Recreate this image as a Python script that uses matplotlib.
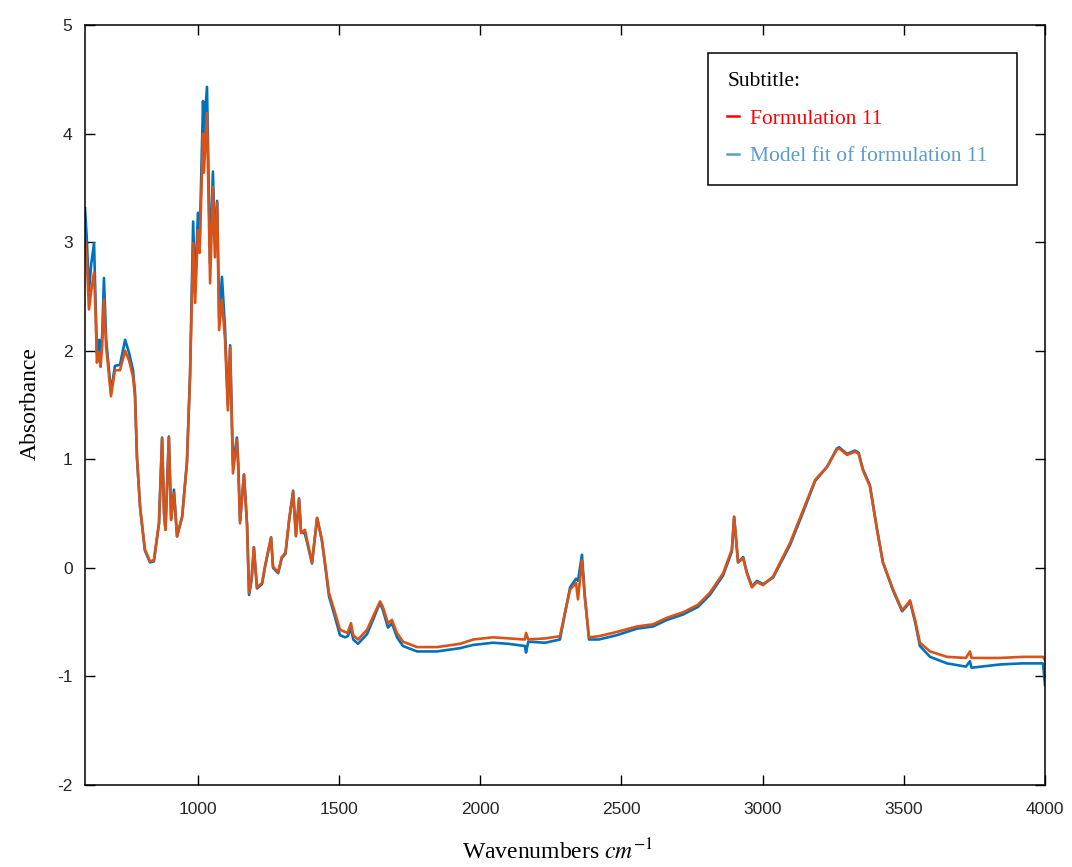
import matplotlib
matplotlib.use('Agg')
import matplotlib.pyplot as plt
from matplotlib.lines import Line2D

plt.rcParams['mathtext.fontset'] = 'stix'
plt.rcParams['axes.unicode_minus'] = False

# FTIR spectrum, measured vs. fitted
wavenumber = [
    600, 606, 614, 622, 632, 638, 642, 650, 655, 661, 667, 675, 684, 692, 706, 724,
    742, 756, 770, 777, 784, 795, 812, 830, 844, 862, 873, 880, 885, 897, 905, 915,
    926, 944, 961, 972, 983, 990, 1000, 1006, 1018, 1021, 1032, 1043, 1053, 1060,
    1068, 1075, 1085, 1096, 1106, 1114, 1124, 1138, 1143, 1149, 1163, 1174, 1181,
    1190, 1198, 1209, 1227, 1237, 1259, 1266, 1284, 1297, 1310, 1323, 1337, 1347,
    1358, 1365, 1379, 1386, 1404, 1422, 1439, 1450, 1464, 1485, 1503, 1521, 1530,
    1542, 1550, 1567, 1599, 1620, 1645, 1655, 1673, 1687, 1705, 1726, 1776, 1847,
    1928, 1975, 2045, 2100, 2158, 2162, 2170, 2230, 2282, 2300, 2318, 2339, 2346,
    2360, 2370, 2385, 2420, 2484, 2555, 2612, 2661, 2718, 2771, 2813, 2860, 2891,
    2899, 2913, 2931, 2944, 2962, 2980, 3001, 3037, 3097, 3143, 3186, 3228, 3263,
    3271, 3299, 3327, 3340, 3355, 3380, 3405, 3426, 3462, 3494, 3511, 3522, 3540,
    3557, 3593, 3653, 3720, 3734, 3740, 3841, 3920, 3993, 4000,
]

formulation_11 = [
    3.02, 2.85, 2.38, 2.55, 2.72, 2.30, 1.89, 1.98, 1.85, 2.05, 2.47, 2.03, 1.80, 1.58, 1.82, 1.82,
    2.00, 1.91, 1.76, 1.58, 1.02, 0.56, 0.17, 0.06, 0.07, 0.41, 1.19, 0.50, 0.35, 1.20, 0.44, 0.69,
    0.29, 0.47, 0.97, 1.76, 2.99, 2.44, 3.11, 2.90, 4.00, 3.64, 4.19, 2.62, 3.51, 2.86,
    3.36, 2.19, 2.47, 2.10, 1.45, 2.03, 0.87, 1.18, 0.90, 0.41, 0.86, 0.38, -0.23,
    -0.10, 0.19, -0.18, -0.14, 0.01, 0.28, 0.01, -0.04, 0.10, 0.14, 0.44, 0.70, 0.29,
    0.63, 0.32, 0.35, 0.26, 0.05, 0.46, 0.26, 0.05, -0.23, -0.41, -0.57, -0.59, -0.60,
    -0.51, -0.62, -0.66, -0.57, -0.45, -0.31, -0.36, -0.51, -0.48, -0.60, -0.68, -0.73, -0.73,
    -0.70, -0.66, -0.64, -0.65, -0.66, -0.60, -0.66, -0.65, -0.63, -0.41, -0.20, -0.14, -0.29,
    0.07, -0.27, -0.64, -0.63, -0.59, -0.54, -0.52, -0.46, -0.41, -0.34, -0.23, -0.05, 0.17,
    0.47, 0.05, 0.09, -0.05, -0.18, -0.13, -0.16, -0.08, 0.23, 0.53, 0.81, 0.93, 1.09,
    1.10, 1.04, 1.07, 1.05, 0.90, 0.75, 0.35, 0.05, -0.20, -0.39, -0.34, -0.30, -0.48,
    -0.69, -0.77, -0.82, -0.83, -0.77, -0.83, -0.83, -0.82, -0.82, -0.85,
]

model_fit = [
    3.31, 3.05, 2.55, 2.80, 2.99, 2.40, 1.98, 2.10, 1.95, 2.15, 2.67, 2.10, 1.85, 1.62, 1.86, 1.87,
    2.10, 1.98, 1.82, 1.62, 1.02, 0.56, 0.16, 0.05, 0.06, 0.41, 1.20, 0.50, 0.35, 1.21, 0.45, 0.72,
    0.29, 0.47, 0.97, 1.78, 3.19, 2.55, 3.27, 3.00, 4.30, 4.00, 4.43, 2.80, 3.65, 3.00,
    3.38, 2.30, 2.68, 2.20, 1.50, 2.05, 0.95, 1.20, 0.95, 0.43, 0.86, 0.40, -0.25,
    -0.11, 0.19, -0.19, -0.15, 0.00, 0.28, 0.00, -0.05, 0.09, 0.13, 0.44, 0.71, 0.30,
    0.64, 0.34, 0.31, 0.24, 0.04, 0.46, 0.25, 0.03, -0.26, -0.45, -0.62, -0.64, -0.63,
    -0.56, -0.66, -0.70, -0.61, -0.48, -0.32, -0.39, -0.55, -0.51, -0.64, -0.72, -0.77, -0.77,
    -0.74, -0.71, -0.69, -0.70, -0.72, -0.78, -0.68, -0.69, -0.66, -0.42, -0.18, -0.10, -0.12,
    0.12, -0.25, -0.66, -0.66, -0.62, -0.56, -0.54, -0.48, -0.43, -0.36, -0.25, -0.07, 0.15,
    0.47, 0.05, 0.10, -0.04, -0.17, -0.12, -0.15, -0.09, 0.21, 0.51, 0.80, 0.93, 1.10,
    1.11, 1.05, 1.08, 1.06, 0.91, 0.76, 0.36, 0.05, -0.21, -0.40, -0.35, -0.31, -0.50,
    -0.72, -0.82, -0.88, -0.91, -0.86, -0.92, -0.89, -0.88, -0.88, -1.08,
]

fig = plt.figure(figsize=(10.72, 8.67), dpi=100)
ax = fig.add_axes([0.0793, 0.0946, 0.8955, 0.8766])

ax.plot(wavenumber, model_fit, color='#0072BD', lw=1.9)
ax.plot(wavenumber, formulation_11, color='#D95319', lw=1.9)

ax.set_xlim(600, 4000)
ax.set_ylim(-2, 5)
ax.set_xticks([1000, 1500, 2000, 2500, 3000, 3500, 4000])
ax.set_yticks([-2, -1, 0, 1, 2, 3, 4, 5])
ax.tick_params(direction='in', top=True, right=True, length=7, width=1,
               labelsize=12.5, labelcolor='#262626')
ax.tick_params(axis='x', pad=12)
ax.tick_params(axis='y', pad=9)
for lbl in ax.get_xticklabels() + ax.get_yticklabels():
    lbl.set_family('Liberation Sans')
for sp in ax.spines.values():
    sp.set_linewidth(1.1)

# axis titles placed by hand so they stay inside the canvas
fig.text(558 / 1072, 1 - 852 / 867, 'Wavenumbers $cm^{-1}$', family='Liberation Serif',
         fontsize=17, ha='center', va='center')
fig.text(30 / 1072, 1 - 404 / 867, 'Absorbance', family='Liberation Serif',
         fontsize=17, ha='center', va='center', rotation=90)

handles = [Line2D([], [], color='#FF0000', lw=1.8),
           Line2D([], [], color='#5B9BD5', lw=1.8)]
leg = ax.legend(handles, ['Formulation 11', 'Model fit of formulation 11'],
                title='Subtitle:', loc='upper left',
                bbox_to_anchor=(0.649, 0.783, 0.322, 0.18), mode='expand',
                prop={'family': 'Liberation Serif', 'size': 15.5},
                title_fontproperties={'family': 'Liberation Serif', 'size': 15.5},
                labelcolor=['#FF0000', '#5B9BD5'], alignment='left',
                handlelength=0.55, handletextpad=0.5, labelspacing=0.8,
                borderpad=0.9, borderaxespad=0, fancybox=False, framealpha=1,
                edgecolor='black')
leg.get_frame().set_linewidth(1.1)

fig.savefig('out.png', dpi=100)
